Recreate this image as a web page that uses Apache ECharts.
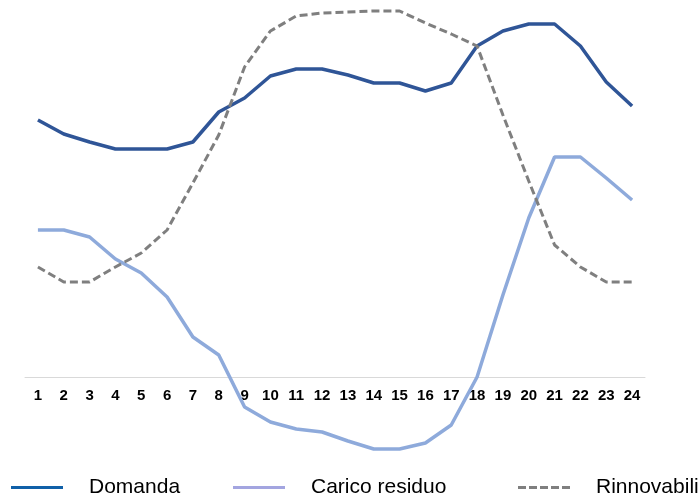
<!DOCTYPE html>
<html>
<head>
<meta charset="utf-8">
<script src="https://cdn.jsdelivr.net/npm/echarts@6/dist/echarts.min.js"></script>
<style>
html,body{margin:0;padding:0;background:#fff;}
#c{width:700px;height:496px;}
</style>
</head>
<body>
<div id="c"></div>
<script>
var hours = ['1','2','3','4','5','6','7','8','9','10','11','12','13','14','15','16','17','18','19','20','21','22','23','24'];
var domanda = [25.7,24.3,23.5,22.8,22.8,22.8,23.5,26.5,27.9,30.1,30.8,30.8,30.2,29.4,29.4,28.6,29.4,33.1,34.6,35.3,35.3,33.1,29.5,27.1];
var caricoResiduo = [14.7,14.7,14.0,11.8,10.4,8.0,4.0,2.2,-3.0,-4.5,-5.2,-5.5,-6.4,-7.2,-7.2,-6.6,-4.8,0.0,8.2,15.9,22.0,22.0,19.9,17.7];
var rinnovabili = [11.0,9.5,9.5,11.0,12.4,14.7,19.4,24.2,31.0,34.6,36.1,36.4,36.5,36.6,36.6,35.4,34.3,33.1,26.2,19.6,13.2,11.0,9.5,9.5];
var seriesNames = ['Domanda','Carico residuo','Rinnovabili'];

var font = '"Liberation Sans", Arial, sans-serif';
var dashIcon = 'path://M0,0h8v3h-8z M11,0h8v3h-8z M22,0h8v3h-8z M33,0h8v3h-8z M44,0h8v3h-8z';

function mkLegend(name, left, icon, color) {
  return {
    left: left, top: 472, orient: 'horizontal',
    itemWidth: 52, itemHeight: 3,
    data: [{name: name, icon: icon, itemStyle: {color: color, borderWidth: 0}}],
    textStyle: {fontFamily: font, fontSize: 21, color: '#000', padding: [5, 0, 0, 21]},
    selectedMode: false
  };
}

var chart = echarts.init(document.getElementById('c'), null, {renderer: 'canvas'});
chart.setOption({
  animation: false,
  backgroundColor: '#fff',
  grid: {left: 25, right: 55, top: 7, bottom: 119, containLabel: false},
  legend: [
    mkLegend(seriesNames[0], 6, 'rect', '#1060a8'),
    mkLegend(seriesNames[1], 228, 'rect', '#a3a5e0'),
    mkLegend(seriesNames[2], 513, dashIcon, '#7f7f7f')
  ],
  xAxis: {
    type: 'category', data: hours, boundaryGap: true,
    axisLine: {onZero: false, lineStyle: {color: '#d9d9d9', width: 1}},
    axisTick: {show: false},
    axisLabel: {fontFamily: font, fontSize: 15, fontWeight: 'bold', color: '#000', margin: 11, interval: 0}
  },
  yAxis: {
    type: 'value', min: 0, max: 37, show: false,
    splitLine: {show: false}
  },
  series: [
    {name: seriesNames[0], type: 'line', data: domanda, showSymbol: false, symbol: 'none', clip: false,
     lineStyle: {color: '#2f5597', width: 3.5}, itemStyle: {color: '#1060a8'}, z: 3},
    {name: seriesNames[1], type: 'line', data: caricoResiduo, showSymbol: false, symbol: 'none', clip: false,
     lineStyle: {color: '#8eaadb', width: 3.5}, itemStyle: {color: '#a3a5e0'}, z: 2},
    {name: seriesNames[2], type: 'line', data: rinnovabili, showSymbol: false, symbol: 'none', clip: false,
     lineStyle: {color: '#7f7f7f', width: 3, type: [8, 4]}, itemStyle: {color: '#7f7f7f'}, z: 4}
  ]
});
</script>
</body>
</html>
